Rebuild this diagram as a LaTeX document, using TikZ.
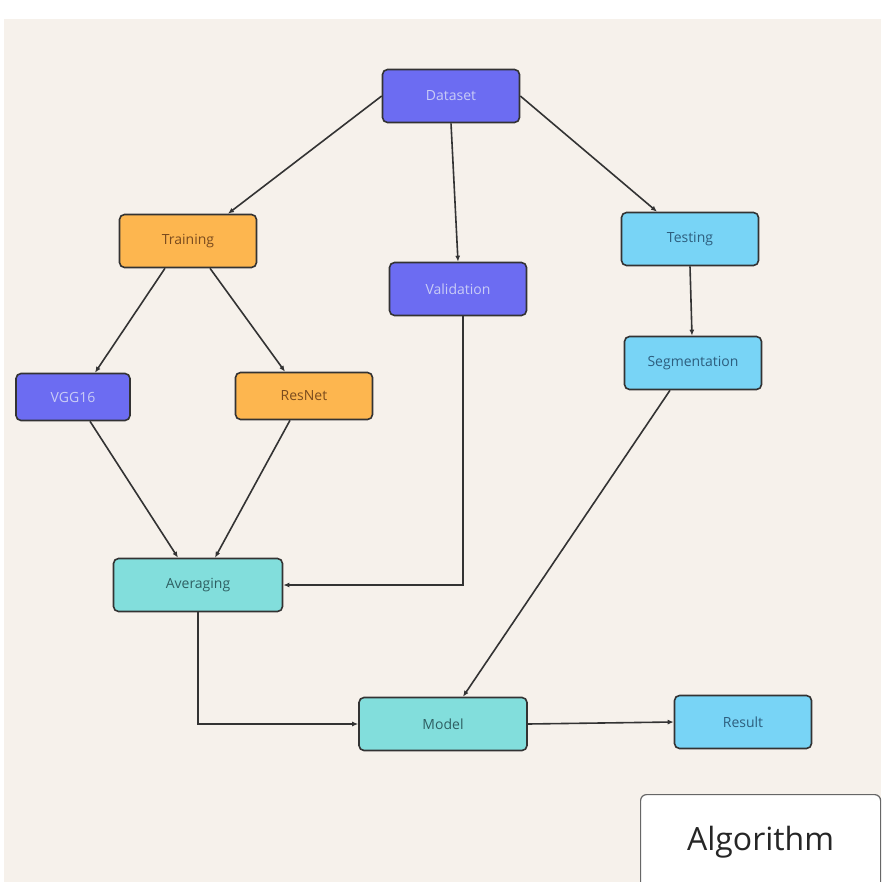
\documentclass[tikz,border=0pt]{standalone}
\usepackage{fontspec}
\setmainfont{Open Sans}
\usepackage{tikz}
\usetikzlibrary{arrows.meta}

\definecolor{bgbeige}{HTML}{F6F1EB}
\definecolor{purplebox}{HTML}{6C6CF2}
\definecolor{purpletext}{HTML}{C9CCF6}
\definecolor{orangebox}{HTML}{FDB64F}
\definecolor{orangetext}{HTML}{7A4B1E}
\definecolor{bluebox}{HTML}{78D4F6}
\definecolor{bluetext}{HTML}{2D5E7E}
\definecolor{tealbox}{HTML}{82DEDC}
\definecolor{tealtext}{HTML}{2E5F62}
\definecolor{edgegray}{HTML}{333333}

\begin{document}
\begin{tikzpicture}[x=1pt, y=-1pt,
    box/.style={draw=edgegray, line width=1.6pt, rounded corners=5pt, minimum width=137pt, minimum height=53pt, font=\fontsize{14}{16}\selectfont},
    purple/.style={box, fill=purplebox, text=purpletext},
    orange/.style={box, fill=orangebox, text=orangetext},
    lightblue/.style={box, fill=bluebox, text=bluetext},
    teal/.style={box, fill=tealbox, text=tealtext},
    flow/.style={draw=edgegray, line width=1.6pt, -{Latex[length=6pt,width=5pt]}}]
    % Page and background
    \useasboundingbox (0,0) rectangle (881,882);
    \fill[white] (0,0) rectangle (881,882);
    \fill[bgbeige] (4,19) rectangle (881,882);

    % Top row
    \node[purple] (dataset) at (451,96) {Dataset};

    % Second row
    \node[orange] (training) at (188,241) {Training};
    \node[purple] (validation) at (458,289) {Validation};
    \node[lightblue] (testing) at (690,239) {Testing};

    % Third row
    \node[purple, minimum width=114pt, minimum height=47pt] (vgg) at (73,397) {VGG16};
    \node[orange, minimum height=47pt] (resnet) at (304,396) {ResNet};
    \node[lightblue] (segmentation) at (693,363) {Segmentation};

    % Lower rows
    \node[teal, minimum width=169pt] (averaging) at (198,585) {Averaging};
    \node[teal, minimum width=168pt] (model) at (443,724) {Model};
    \node[lightblue] (result) at (743,722) {Result};

    % Caption box
    \node[draw=black!60, line width=1.2pt, fill=white, rounded corners=6pt, anchor=north west, inner xsep=0pt, inner ysep=0pt, text width=240pt, align=center, text height=56pt, text depth=50pt, font=\fontsize{32}{36}\selectfont, text=black!85] (algorithm) at (640,794) {Algorithm};

    % Edges
    \draw[flow] (dataset.west) -- ([xshift=40pt]training.north);
    \draw[flow] (dataset.south) -- (validation.north);
    \draw[flow] (dataset.east) -- ([xshift=-33pt]testing.north);
    \draw[flow] (testing.south) -- ([xshift=-1pt]segmentation.north);
    \draw[flow] ([xshift=-23pt]training.south) -- ([xshift=22pt]vgg.north);
    \draw[flow] ([xshift=22pt]training.south) -- ([xshift=-19pt]resnet.north);
    \draw[flow] ([xshift=17pt]vgg.south) -- ([xshift=-20pt]averaging.north);
    \draw[flow] ([xshift=-14pt]resnet.south) -- ([xshift=17pt]averaging.north);
    \draw[flow] ([xshift=5pt]validation.south) |- (averaging.east);
    \draw[flow] ([xshift=-23pt]segmentation.south) -- ([xshift=20pt]model.north);
    \draw[flow] (averaging.south) |- (model.west);
    \draw[flow] (model.east) -- (result.west);
\end{tikzpicture}
\end{document}
